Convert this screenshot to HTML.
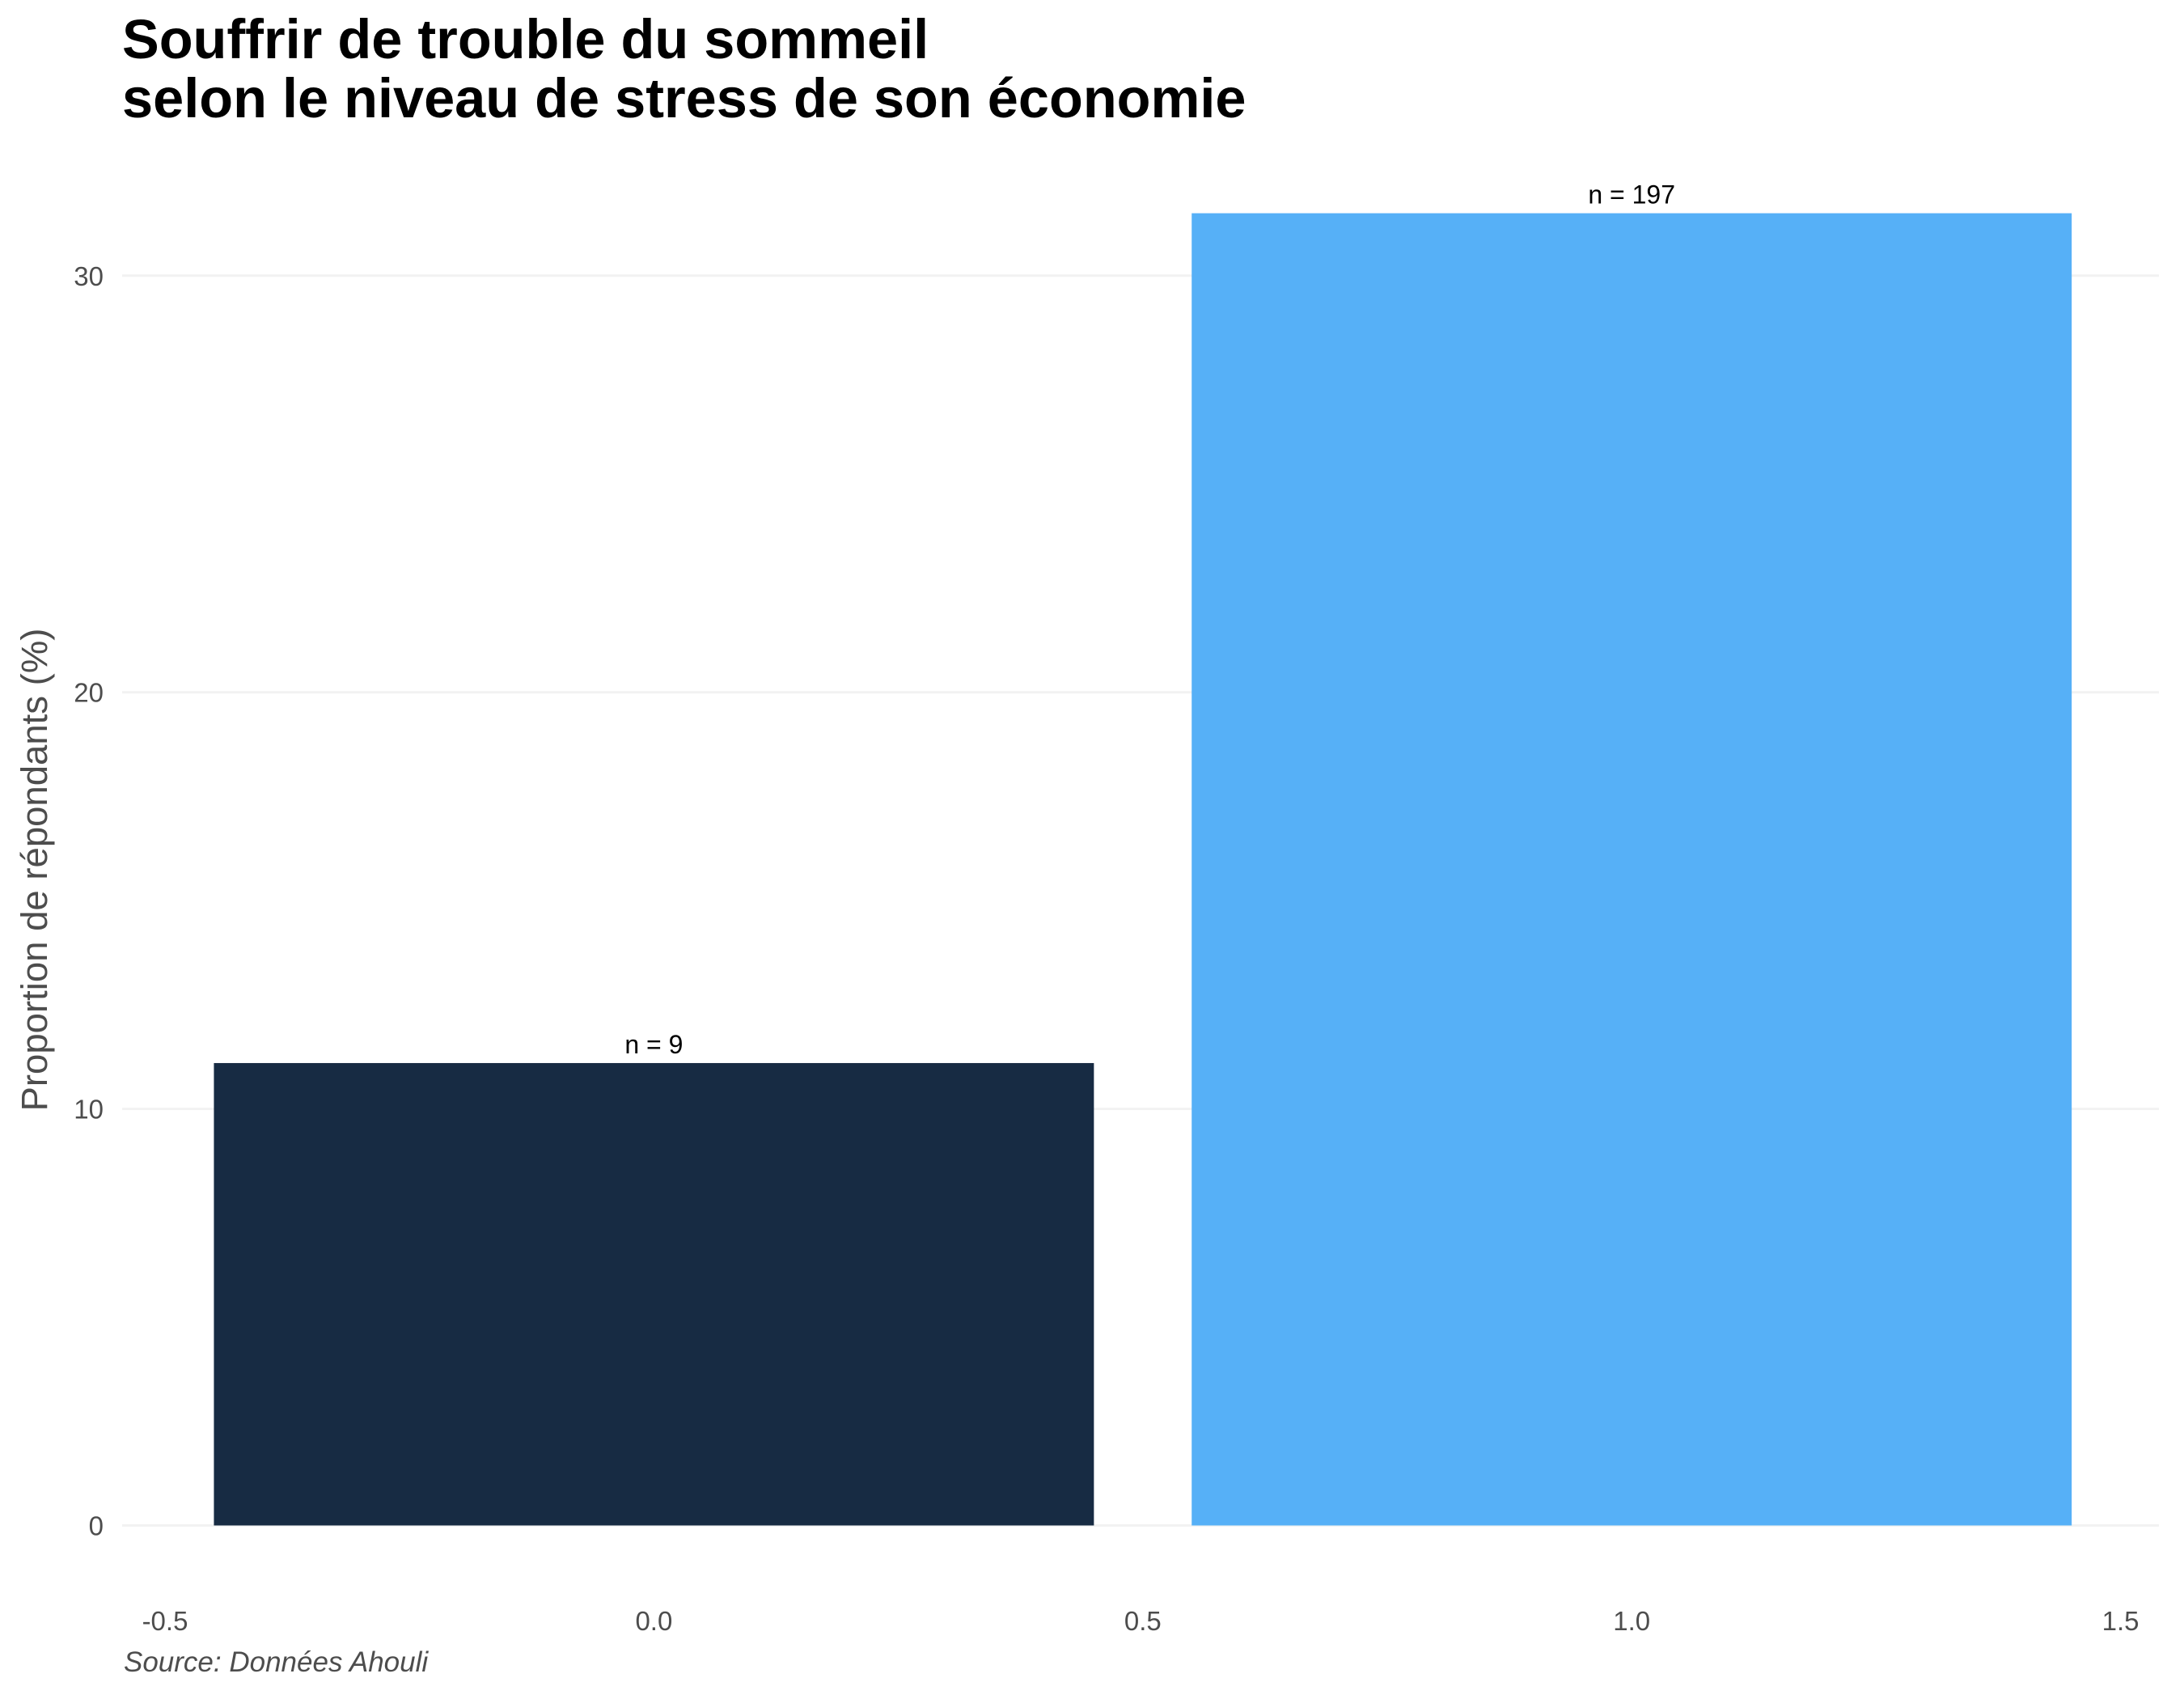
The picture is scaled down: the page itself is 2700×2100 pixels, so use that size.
<!DOCTYPE html>
<html><head><meta charset="utf-8"><style>
html,body{margin:0;padding:0;background:#fff;}
svg{display:block;font-family:"Liberation Sans",Arial,sans-serif;}
</style></head><body>
<svg id="chart" width="2700" height="2100" viewBox="0 0 2700 2100">
<text x="151" y="72" font-size="68.5" font-weight="bold" fill="#000">Souffrir de trouble du sommeil</text>
<text x="151" y="145" font-size="68.5" font-weight="bold" fill="#000">selon le niveau de stress de son économie</text>
<g id="grid"></g>
<g id="bars"></g>
<g id="yticks"></g>
<g id="xticks"></g>
<text transform="translate(58,1075) rotate(-90)" text-anchor="middle" font-size="45.5" fill="#4d4d4d">Proportion de répondants (%)</text>
<text x="153" y="2066" font-size="35" font-style="italic" fill="#4d4d4d">Source: Données Ahouli</text>
</svg>
<script>
const categories = [0, 1];
const values = [11.1, 31.5];
const counts = ["n = 9", "n = 197"];
const colors = ["#172b43", "#56b0f7"];
const yTicks = [0, 10, 20, 30];
const xTicks = [-0.5, 0, 0.5, 1, 1.5];
const xTickLabels = ["-0.5", "0.0", "0.5", "1.0", "1.5"];

const NS = "http://www.w3.org/2000/svg";
const y = v => 1885.5 - v * 51.49;
const x = v => 808.4 + v * 1208.8;
function mk(tag, attrs, parent, text) {
  const e = document.createElementNS(NS, tag);
  for (const k in attrs) e.setAttribute(k, attrs[k]);
  if (text !== undefined) e.textContent = text;
  parent.appendChild(e);
  return e;
}
const grid = document.getElementById('grid');
const yt = document.getElementById('yticks');
yTicks.forEach(t => {
  const l = mk('line', {x1:151, x2:2669, y1:y(t), y2:y(t), stroke:'#f2f2f2', 'stroke-width':3}, grid);
  
  
  const tx = mk('text', {x:128, y:y(t)+12, 'text-anchor':'end', 'font-size':33, fill:'#4d4d4d'}, yt, String(t));
  
  
});
const xt = document.getElementById('xticks');
xTicks.forEach((t, i) => {
  const tx = mk('text', {x:x(t), y:2015, 'text-anchor':'middle', 'font-size':33, fill:'#4d4d4d'}, xt, xTickLabels[i]);
  
  
});
const bars = document.getElementById('bars');
categories.forEach((c, i) => {
  const x0 = x(c - 0.45), x1 = x(c + 0.45);
  const r = mk('rect', {x:x0, y:y(values[i]), width:x1 - x0, height:y(0) - y(values[i]), fill:colors[i]}, bars);
  
  
  const lb = mk('text', {x:x(c), y:y(values[i]) - 12, 'text-anchor':'middle', 'font-size':32, fill:'#000'}, bars, counts[i]);
  
  
});
</script>
</body></html>
